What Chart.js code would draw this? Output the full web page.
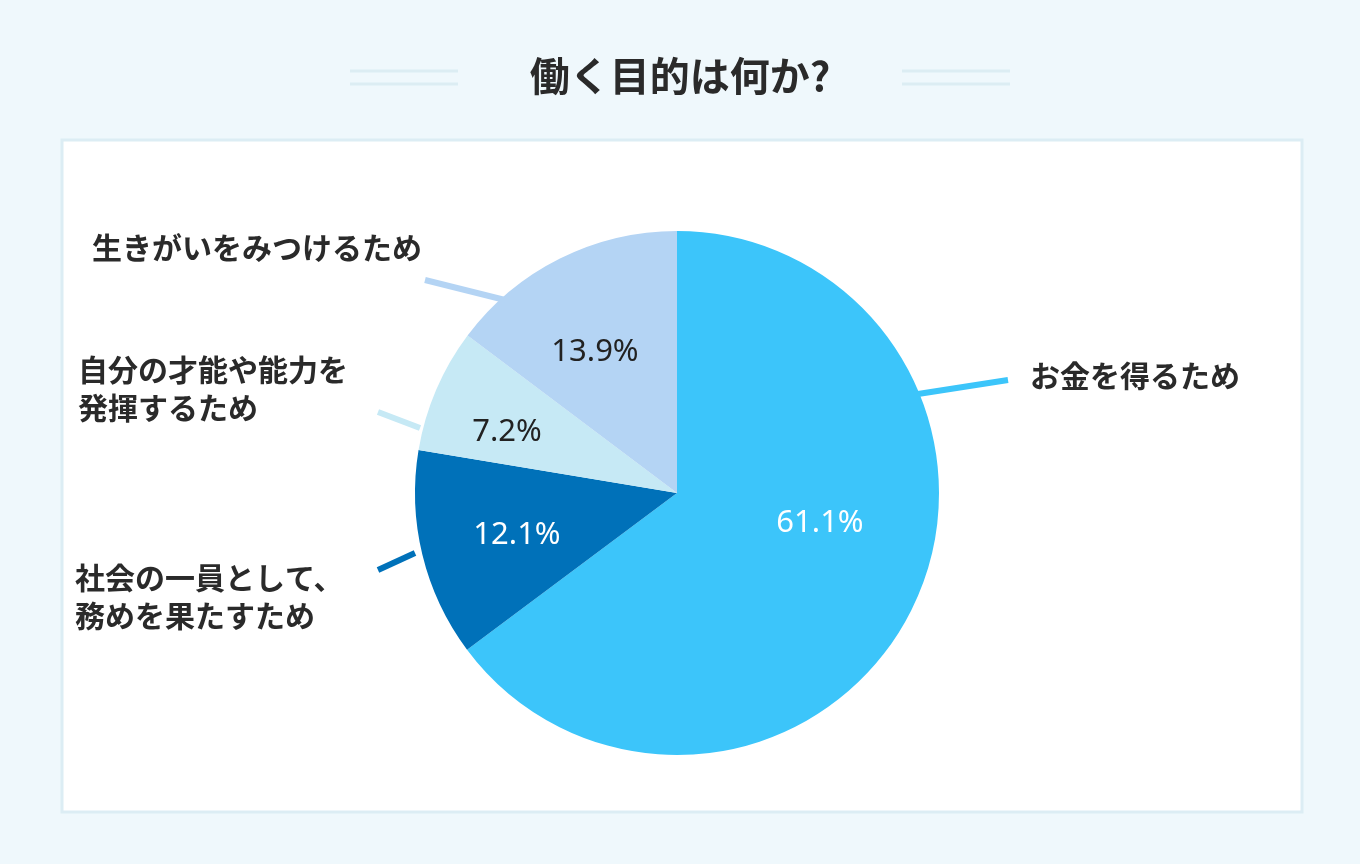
<!DOCTYPE html>
<html>
<head>
<meta charset="utf-8">
<script src="https://cdn.jsdelivr.net/npm/chart.js"></script>
<style>
  html, body { margin: 0; padding: 0; background: #eff8fc; }
  #wrap { width: 1360px; height: 864px; }
</style>
</head>
<body>
<div id="wrap"><canvas id="pie" width="1360" height="864"></canvas></div>
<script>
const titleText = '働く目的は何か?';
const labels = ['お金を得るため', '社会の一員として、\n務めを果たすため', '自分の才能や能力を\n発揮するため', '生きがいをみつけるため'];
const values = [61.1, 12.1, 7.2, 13.9];
const sliceColors = ['#3cc5fa', '#0071b9', '#c6e9f5', '#b4d4f4'];
const valueColors = ['#ffffff', '#ffffff', '#222222', '#222222'];

// where the outside labels and their leader lines sit
const outside = [
  { x: 1030, y: 376, align: 'left', line: [918, 394, 1008, 380] },
  { x: 75, y: 578, align: 'left', line: [378, 570, 415, 553] },
  { x: 78, y: 370, align: 'left', line: [378, 412, 420, 428] },
  { x: 92, y: 248, align: 'left', line: [425, 280, 505, 300] }
];
const valuePos = [[820, 523], [517, 535], [507, 432], [595, 352]];

const backdrop = {
  id: 'backdrop',
  beforeDraw(chart) {
    const c = chart.ctx;
    c.save();
    c.fillStyle = '#eff8fc';
    c.fillRect(0, 0, chart.width, chart.height);
    c.fillStyle = '#ffffff';
    c.fillRect(62, 140, 1240, 672);
    c.strokeStyle = '#dcedf4';
    c.lineWidth = 3;
    c.strokeRect(62, 140, 1240, 672);
    // title
    c.fillStyle = '#2a2a2a';
    c.font = 'bold 40px "Noto Sans CJK JP"';
    c.textAlign = 'center';
    c.textBaseline = 'middle';
    c.fillText(titleText, 680, 76);
    c.strokeStyle = '#dcedf3';
    c.lineWidth = 3;
    [[350, 458], [902, 1010]].forEach(([a, b]) => {
      [71, 84].forEach(y => {
        c.beginPath(); c.moveTo(a, y); c.lineTo(b, y); c.stroke();
      });
    });
    c.restore();
  }
};

const sliceText = {
  id: 'sliceText',
  afterDatasetsDraw(chart) {
    const c = chart.ctx;
    c.save();
    chart.getDatasetMeta(0).data.forEach((arc, i) => {
      const o = outside[i];
      c.strokeStyle = sliceColors[i];
      c.lineWidth = 6;
      c.beginPath(); c.moveTo(o.line[0], o.line[1]); c.lineTo(o.line[2], o.line[3]); c.stroke();
      c.fillStyle = '#2a2a2a';
      c.font = 'bold 30px "Noto Sans CJK JP"';
      c.textAlign = o.align;
      c.textBaseline = 'middle';
      labels[i].split('\n').forEach((t, k) => c.fillText(t, o.x, o.y + k * 38));
      c.fillStyle = valueColors[i];
      c.font = '31px "Noto Sans"';
      c.textAlign = 'center';
      c.fillText(values[i].toFixed(1) + '%', valuePos[i][0], valuePos[i][1]);
    });
    c.restore();
  }
};

new Chart(document.getElementById('pie').getContext('2d'), {
  type: 'pie',
  data: {
    labels: labels,
    datasets: [{ data: values, backgroundColor: sliceColors, borderWidth: 0 }]
  },
  options: {
    responsive: false,
    animation: false,
    layout: { padding: { left: 300, right: 306, top: 231, bottom: 109 } },
    plugins: { legend: { display: false }, tooltip: { enabled: false } }
  },
  plugins: [backdrop, sliceText]
});
</script>
</body>
</html>
